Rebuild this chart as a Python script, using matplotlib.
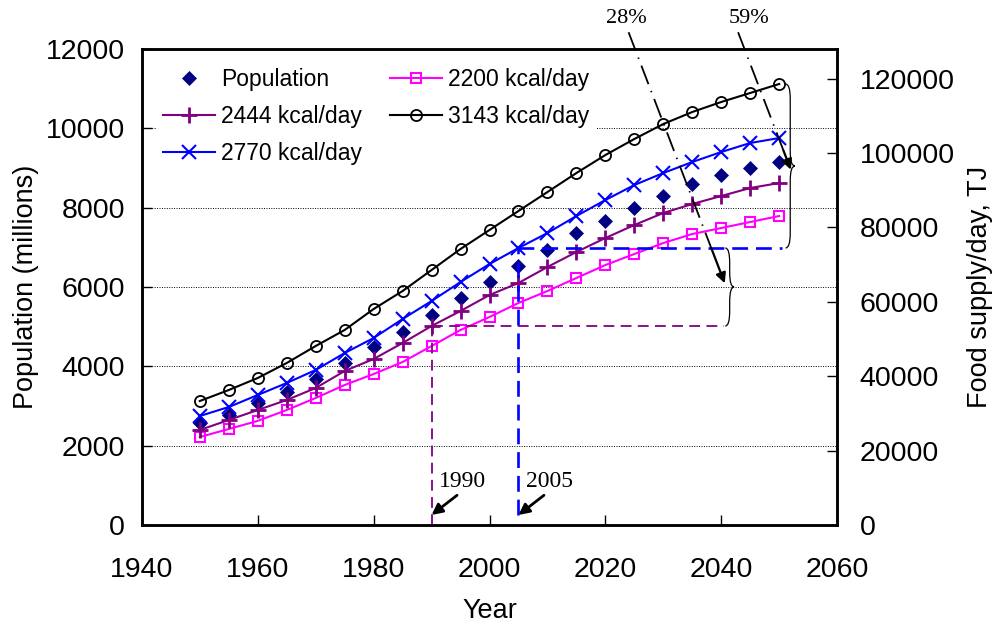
import matplotlib
matplotlib.use("Agg")
import matplotlib.pyplot as plt
from matplotlib.path import Path
from matplotlib.patches import PathPatch

# World population and daily food energy supply at four diet levels
years = list(range(1950, 2051, 5))
population = [2571, 2773, 3075, 3353, 3680, 4084, 4487, 4865, 5294, 5722, 6126,
              6529, 6932, 7361, 7663, 7991, 8293, 8596, 8823, 8999, 9151]
food_2200 = [23660, 25810, 28000, 30920, 34150, 37650, 40600, 43830, 48130, 52440, 55930,
             59700, 62920, 66420, 69910, 72870, 75830, 78250, 79860, 81480, 83090]
food_2444 = [25550, 28240, 30920, 33610, 36840, 41410, 44640, 48940, 53510, 57550, 61850,
             65070, 69380, 73410, 77170, 80670, 83900, 86320, 88470, 90620, 91960]
food_2770 = [29310, 31730, 34960, 38180, 41680, 46250, 50280, 55390, 60230, 65340, 70180,
             74490, 78520, 83090, 87390, 91430, 94650, 97610, 100300, 102720, 104060]
food_3143 = [33340, 36300, 39530, 43560, 48130, 52440, 58080, 62920, 68570, 74220, 79330,
             84440, 89540, 94650, 99490, 103800, 107830, 111060, 113750, 116170, 118590]

series_labels = ["2200 kcal/day", "2444 kcal/day", "2770 kcal/day", "3143 kcal/day"]
ref_year_low = 1990
ref_year_high = 2005
pct_low = "28%"
pct_high = "59%"

plt.rcParams["font.family"] = ["Liberation Sans", "DejaVu Sans"]
SERIF = ["Liberation Serif", "DejaVu Serif"]


def draw_brace(ax, x0, y_lo, y_hi, width, ry, **kw):
    """Right-pointing curly brace between y_lo and y_hi."""
    xm = x0 + width / 2
    xt = x0 + width
    ymid = (y_lo + y_hi) / 2
    verts = [(x0, y_hi), (xm, y_hi), (xm, y_hi - ry),
             (xm, ymid + ry), (xm, ymid), (xt, ymid),
             (xm, ymid), (xm, ymid - ry),
             (xm, y_lo + ry), (xm, y_lo), (x0, y_lo)]
    codes = [Path.MOVETO, Path.CURVE3, Path.CURVE3,
             Path.LINETO, Path.CURVE3, Path.CURVE3,
             Path.CURVE3, Path.CURVE3,
             Path.LINETO, Path.CURVE3, Path.CURVE3]
    patch = PathPatch(Path(verts, codes), fill=False, clip_on=False, **kw)
    ax.add_patch(patch)
    return xt, ymid


fig = plt.figure(figsize=(9.99, 6.28), dpi=100)
ax = fig.add_axes([0.142, 0.164, 0.696, 0.758])
ax2 = ax.twinx()

ax.set_xlim(1940, 2060)
ax.set_ylim(0, 12000)
ax2.set_ylim(0, 128000)
ax.set_xticks(range(1940, 2061, 20))
ax.set_yticks(range(0, 12001, 2000))
ax2.set_yticks(range(0, 120001, 20000))

ax.grid(True, axis="y", color="black", linestyle=(0, (1, 1.5)), linewidth=0.7)
for a in (ax, ax2):
    a.tick_params(direction="in", length=7, width=1, labelsize=20.5)
    for sp in a.spines.values():
        sp.set_linewidth(1.8)
ax.tick_params(axis="x", pad=23)
ax.tick_params(axis="y", pad=12)
ax2.tick_params(axis="y", pad=16)

ax.set_xlabel("Year", fontsize=19.5, labelpad=11)
ax.set_ylabel("Population (millions)", fontsize=19.5, labelpad=5)
ax2.set_ylabel("Food supply/day, TJ", fontsize=19.5, labelpad=9)

# Population on the left axis
h_pop, = ax.plot(years, population, linestyle="none", marker="D", markersize=7.5,
                 color="#000080", markeredgewidth=0.5, label="Population")

# Food supply on the right axis
h_2200, = ax2.plot(years, food_2200, color="#FF00FF", lw=1.5, marker="s", markersize=7,
                   markerfacecolor="none", markeredgewidth=1.5, label=series_labels[0])
h_2444, = ax2.plot(years, food_2444, color="#800080", lw=1.5, marker="+", markersize=11,
                   markeredgewidth=2, label=series_labels[1])
h_2770, = ax2.plot(years, food_2770, color="#0000FF", lw=1.5, marker="x", markersize=10,
                   markeredgewidth=1.5, label=series_labels[2])
h_3143, = ax2.plot(years, food_3143, color="black", lw=1.5, marker="o", markersize=8,
                   markerfacecolor="none", markeredgewidth=1.3, label=series_labels[3])

# Legend sits on the lower axes so the food supply curves stay on top of its box
leg = ax.legend(handles=[h_pop, h_2444, h_2770, h_2200, h_3143], ncol=2,
                loc="upper left", bbox_to_anchor=(0.02, 0.975), fontsize=16.5,
                frameon=True, facecolor="white", edgecolor="none", framealpha=1,
                handlelength=2.3, handletextpad=0.25, columnspacing=1.2,
                labelspacing=0.62, borderaxespad=0, borderpad=0.3, fancybox=False)

# Reference levels: 2444 kcal/day in 1990 and 2770 kcal/day in 2005
lvl_low = food_2444[years.index(ref_year_low)]
lvl_high = food_2770[years.index(ref_year_high)]
end_low = 2040.5
end_high = 2050.5

ax2.plot([ref_year_low, ref_year_low], [0, lvl_low], color="#800080", lw=1.3,
         linestyle=(0, (6, 3.5)), clip_on=False)
ax2.plot([ref_year_low, end_low], [lvl_low, lvl_low], color="#800080", lw=1.3,
         linestyle=(0, (6, 3.5)))
ax2.plot([ref_year_high, ref_year_high], [2700, lvl_high], color="#0000FF", lw=1.9,
         linestyle=(0, (6, 3)))
ax2.plot([ref_year_high, end_high], [lvl_high, lvl_high], color="#0000FF", lw=1.9,
         linestyle=(0, (6, 3)))

# Year call-outs
for yr in (ref_year_low, ref_year_high):
    ax2.annotate("", xy=(yr, 2700), xytext=(yr + 4.4, 8000),
                 arrowprops=dict(arrowstyle="-|>", color="black", lw=2,
                                 mutation_scale=16, shrinkA=0, shrinkB=0))
    ax2.text(yr + 5.4, 11600, str(yr), fontsize=17, family=SERIF,
             ha="center", va="center")

# Braces showing the growth relative to the reference levels
tip_low = draw_brace(ax2, end_low + 0.2, lvl_low, lvl_high, 1.5, 4000,
                     color="black", lw=0.9)
tip_high = draw_brace(ax2, end_high + 0.6, lvl_high, food_3143[-1], 1.6, 4000,
                      color="black", lw=0.9)

# Dash-dot pointers from the percentage labels
dashdot = (0, (11, 4, 0.8, 4))
for txt, tx, start, tip in ((pct_low, 2023.6, (2024.0, 132500), (tip_low[0] - 1.6, tip_low[1] + 1000)),
                            (pct_high, 2044.8, (2042.9, 132500), (tip_high[0] - 0.7, tip_high[1] - 1000))):
    fx = start[0] + (tip[0] - start[0]) * 0.86
    fy = start[1] + (tip[1] - start[1]) * 0.86
    ax2.plot([start[0], fx], [start[1], fy], color="black", lw=1.3,
             linestyle=dashdot, clip_on=False)
    ax2.annotate("", xy=tip, xytext=(fx, fy), annotation_clip=False,
                 arrowprops=dict(arrowstyle="-|>", color="black", lw=1.6,
                                 mutation_scale=15, shrinkA=0, shrinkB=0))
    ax2.text(tx, 136300, txt, fontsize=16, family=SERIF, ha="center",
             va="center", clip_on=False)

fig.savefig("out.png", dpi=100)
